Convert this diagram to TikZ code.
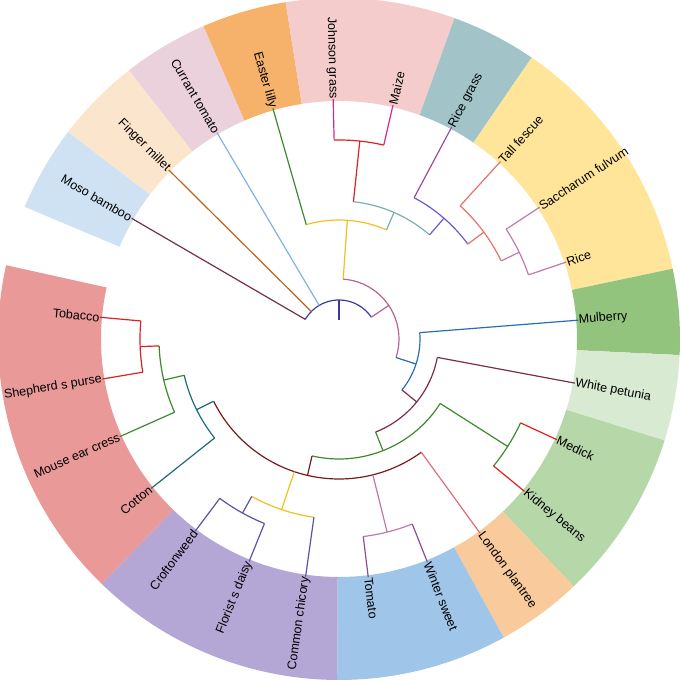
\documentclass[tikz,border=0pt]{standalone}
\usepackage{fontspec}
\setmainfont{Liberation Sans}
\definecolor{cMoso}{HTML}{CFE2F3}\definecolor{cFing}{HTML}{FCE5CD}
\definecolor{cCurr}{HTML}{EAD1DC}\definecolor{cEast}{HTML}{F6B26B}
\definecolor{cJohn}{HTML}{F4CCCC}\definecolor{cRgr}{HTML}{A2C4C9}
\definecolor{cYel}{HTML}{FFE599}\definecolor{cMul}{HTML}{93C47D}
\definecolor{cWhi}{HTML}{D9EAD3}\definecolor{cMed}{HTML}{B6D7A8}
\definecolor{cLon}{HTML}{F9CB9C}\definecolor{cBlu}{HTML}{9FC5E8}
\definecolor{cPur}{HTML}{B4A7D6}\definecolor{cRed}{HTML}{EA9999}
\definecolor{bNavy}{HTML}{3B3B98}\definecolor{bMaroon}{HTML}{7B2D4F}
\definecolor{bBrown}{HTML}{B8651B}\definecolor{bLBlue}{HTML}{7FB2E5}
\definecolor{bGreen}{HTML}{3D8A2E}\definecolor{bMauve}{HTML}{B5658F}
\definecolor{bYel}{HTML}{F0C020}\definecolor{bTeal}{HTML}{7AB0A8}
\definecolor{bRed}{HTML}{E02020}\definecolor{bMag}{HTML}{D02B8A}
\definecolor{bPur}{HTML}{6A5ACD}\definecolor{bRgr}{HTML}{9B4F8F}
\definecolor{bSal}{HTML}{E8706F}\definecolor{bPink}{HTML}{C07AA8}
\definecolor{bBlue}{HTML}{2A6DB5}\definecolor{bDRed}{HTML}{7A1A1A}
\definecolor{bLon}{HTML}{E06C7A}\definecolor{bTom}{HTML}{8E4E8E}
\definecolor{bSP}{HTML}{5E52A8}\definecolor{bDTeal}{HTML}{1F6B7A}
\newcommand\sect[3]{\fill[#1] (#2:238) arc[start angle=#2,end angle=#3,radius=238] -- (#3:341) arc[start angle=#3,end angle=#2,radius=341] -- cycle;}
\newcommand\rad[4]{\draw[br,#1] (#2:#3) -- (#2:#4);}
\newcommand\arcc[4]{\draw[br,#1] (#3:#2) arc[start angle=#3,end angle=#4,radius=#2];}
\newcommand\leafR[5]{\coordinate (t#1) at (#2:240);\node[lab,anchor=west,rotate=#2] (n#1) at (#2:239) {#5};\draw[br,#4] (#2:#3) -- (t#1);}
\newcommand\leafL[5]{\coordinate (t#1) at (#2:240);\node[lab,anchor=east,rotate=#2+180] (n#1) at (#2:239) {#5};\draw[br,#4] (#2:#3) -- (t#1);}
\begin{document}
\begin{tikzpicture}[x=0.75pt,y=0.75pt,
  br/.style={line width=0.9pt},
  lab/.style={font=\fontsize{9.4}{10}\selectfont,inner sep=1pt}]
\useasboundingbox (-339,-341) rectangle (341,339);
% sectors
\sect{cMoso}{142.6}{157.2}\sect{cFing}{128}{142.6}\sect{cCurr}{113.4}{128}
\sect{cEast}{99}{113.4}\sect{cJohn}{70.2}{99}\sect{cRgr}{55.6}{70.2}
\sect{cYel}{11.9}{55.6}\sect{cMul}{-2.7}{11.9}\sect{cWhi}{-17.3}{-2.7}
\sect{cMed}{-46.5}{-17.3}\sect{cLon}{-61.1}{-46.5}\sect{cBlu}{-90.3}{-61.1}
\sect{cPur}{-134.1}{-90.3}\sect{cRed}{167.5}{225.9}
% root
\rad{bNavy}{90}{19}{39}\arcc{bNavy}{39}{149.8}{34}
\leafL{moso}{149.8}{39}{bMaroon}{Moso bamboo}
\leafL{fing}{135.2}{39}{bBrown}{Finger millet}
\leafL{curr}{120.6}{39}{bLBlue}{Currant tomato}
\rad{bMauve}{34}{39}{60}\arcc{bMauve}{60}{86}{-18}
\rad{bYel}{86}{60}{119}\arcc{bYel}{119}{106}{66.5}
\leafL{east}{106}{119}{bGreen}{Easter lilly}
\rad{bTeal}{66.5}{119}{138}\arcc{bTeal}{138}{84}{49}
\rad{bRed}{84}{138}{199}\arcc{bRed}{199}{91.4}{77}
\leafL{john}{91.4}{199}{bMag}{Johnson grass}
\leafR{maiz}{77}{199}{bMag}{Maize}
\rad{bPur}{49}{138}{160}\arcc{bPur}{160}{62}{36.4}
\leafR{rgr}{62}{160}{bRgr}{Rice grass}
\rad{bSal}{36.4}{160}{180}\arcc{bSal}{180}{47.7}{25.7}
\leafR{tall}{47.7}{180}{bSal}{Tall fescue}
\rad{bPink}{25.7}{180}{200}\arcc{bPink}{200}{33.3}{18.7}
\leafR{sacc}{33.3}{200}{bPink}{Saccharum fulvum}
\leafR{rice}{18.7}{200}{bPink}{Rice}
% F
\rad{bBlue}{-18}{60}{81}\arcc{bBlue}{81}{4.5}{-39}
\leafR{mulb}{4.5}{81}{bBlue}{Mulberry}
\rad{bMaroon}{-39}{81}{100}\arcc{bMaroon}{100}{-10.6}{-68.5}
\leafR{whit}{-10.6}{100}{bMaroon}{White petunia}
\rad{bGreen}{-68.5}{100}{120}\arcc{bGreen}{120}{-32.5}{-103}
\rad{bGreen}{-32.5}{120}{200}\arcc{bGreen}{200}{-24.8}{-39.4}
\leafR{medi}{-24.8}{200}{bRed}{Medick}
\leafR{kidn}{-39.4}{200}{bRed}{Kidney beans}
\rad{bDRed}{-103}{120}{140}\arcc{bDRed}{140}{-54}{-153.6}
\leafR{lond}{-54}{140}{bLon}{London plantree}
\rad{bPink}{-76}{140}{199}\arcc{bPink}{199}{-68.4}{-83}
\leafR{wint}{-68.4}{199}{bTom}{Winter sweet}
\leafR{toma}{-83}{199}{bTom}{Tomato}
\rad{bYel}{-108.6}{140}{180}\arcc{bYel}{180}{-98}{-119}
\leafL{chic}{-98}{180}{bSP}{Common chicory}
\rad{bSP}{-119}{180}{199}\arcc{bSP}{199}{-112}{-126.8}
\leafL{flor}{-112}{199}{bSP}{Florist s daisy}
\leafL{crof}{-126.8}{199}{bSP}{Croftonweed}
\rad{bDTeal}{-153.6}{140}{159}\arcc{bDTeal}{159}{-141.5}{-166.8}
\leafL{cott}{-141.5}{159}{bDTeal}{Cotton}
\rad{bGreen}{-166.8}{159}{180}\arcc{bGreen}{180}{-156}{-177.8}
\leafL{mous}{-156}{180}{bGreen}{Mouse ear cress}
\rad{bRed}{-177.8}{180}{199}\arcc{bRed}{199}{174.8}{189.6}
\leafL{toba}{174.8}{199}{bRed}{Tobacco}
\leafL{shep}{189.6}{199}{bRed}{Shepherd s purse}
\end{tikzpicture}
\end{document}
